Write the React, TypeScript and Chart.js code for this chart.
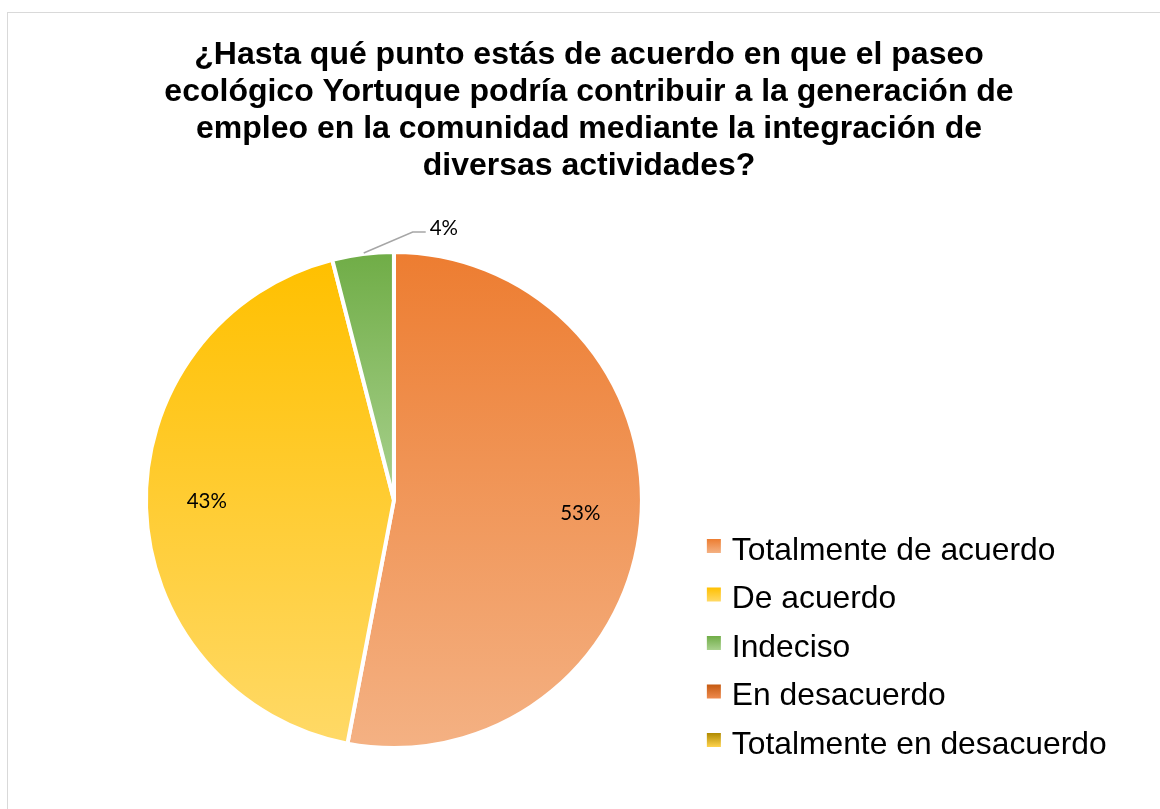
import React, { useEffect, useRef } from "react";
import { Chart, registerables } from "chart.js";

Chart.register(...registerables);

const TITLE_LINES = [
  "¿Hasta qué punto estás de acuerdo en que el paseo",
  "ecológico Yortuque podría contribuir a la generación de",
  "empleo en la comunidad mediante la integración de",
  "diversas actividades?",
];
const CATEGORIES = [
  "Totalmente de acuerdo",
  "De acuerdo",
  "Indeciso",
  "En desacuerdo",
  "Totalmente en desacuerdo",
];
const VALUES = [53, 43, 4, 0, 0];

// styles
const TOP_COLORS = ["#ED7D31", "#FFC000", "#70AD47", "#C55A11", "#B08A00"];
const BOTTOM_COLORS = ["#F4B183", "#FFD966", "#A9D18E", "#EE8A4E", "#FFD34D"];

const PIE_RADIUS = 248;
const LEGEND_FONT = 31.8;
const LEGEND_BOX = 14;
const TITLE_FONT = "bold 32px 'Liberation Sans', Arial, sans-serif";
const LABEL_FONT = "20.5px Lato, 'Open Sans', sans-serif";

function sliceGradient(chart: any, i: number) {
  const area = chart.chartArea;
  if (!area) return TOP_COLORS[i];
  const cy = (area.top + area.bottom) / 2;
  const r = PIE_RADIUS - 2;
  const total = VALUES.reduce((a, b) => a + b, 0);
  let before = 0;
  for (let k = 0; k < i; k++) before += VALUES[k];
  const a0 = (before / total) * Math.PI * 2;
  const a1 = ((before + VALUES[i]) / total) * Math.PI * 2;
  const ys = [cy, cy - r * Math.cos(a0), cy - r * Math.cos(a1)];
  if (a0 <= 1e-9 || a1 >= Math.PI * 2 - 1e-9) ys.push(cy - r);
  if (a0 <= Math.PI && a1 >= Math.PI) ys.push(cy + r);
  const y0 = Math.min(...ys);
  let y1 = Math.max(...ys);
  if (y1 - y0 < 1) y1 = y0 + 1;
  const g = chart.ctx.createLinearGradient(0, y0, 0, y1);
  g.addColorStop(0, TOP_COLORS[i]);
  g.addColorStop(1, BOTTOM_COLORS[i]);
  return g;
}

const titlePlugin = {
  id: "titleText",
  afterDraw(chart: any) {
    const ctx = chart.ctx;
    ctx.save();
    ctx.font = TITLE_FONT;
    ctx.fillStyle = "#000";
    ctx.textAlign = "center";
    ctx.textBaseline = "middle";
    TITLE_LINES.forEach((line, i) => ctx.fillText(line, 589, 55.5 + 37 * i));
    ctx.restore();
  },
};

const legendBoxPlugin = {
  id: "legendBoxGradient",
  afterDraw(chart: any) {
    const legend = chart.legend;
    if (!legend || !legend.legendHitBoxes) return;
    const ctx = chart.ctx;
    ctx.save();
    legend.legendHitBoxes.forEach((hb: any, i: number) => {
      const top = hb.top + 9;
      const g = ctx.createLinearGradient(0, top, 0, top + LEGEND_BOX);
      g.addColorStop(0, TOP_COLORS[i]);
      g.addColorStop(1, BOTTOM_COLORS[i]);
      ctx.fillStyle = g;
      ctx.fillRect(hb.left, top, LEGEND_BOX, LEGEND_BOX);
    });
    ctx.restore();
  },
};

const dataLabelPlugin = {
  id: "dataLabels",
  afterDatasetsDraw(chart: any) {
    const ctx = chart.ctx;
    const meta = chart.getDatasetMeta(0);
    ctx.save();
    ctx.font = LABEL_FONT;
    ctx.fillStyle = "#000";
    meta.data.forEach((arc: any, i: number) => {
      const v = VALUES[i];
      if (!v) return;
      const { x, y, startAngle, endAngle, outerRadius } = arc.getProps(
        ["x", "y", "startAngle", "endAngle", "outerRadius"],
        true
      );
      const mid = (startAngle + endAngle) / 2;
      const text = v + "%";
      if (v >= 10) {
        const d = outerRadius * 0.755;
        ctx.textAlign = "center";
        ctx.textBaseline = "middle";
        ctx.fillText(text, x + Math.cos(mid) * d, y + Math.sin(mid) * d - 4);
      } else {
        const sx = x + Math.cos(mid) * (outerRadius + 1);
        const sy = y + Math.sin(mid) * (outerRadius + 1);
        const ex = sx + 50;
        const ey = sy - 21;
        ctx.strokeStyle = "#A6A6A6";
        ctx.lineWidth = 1.5;
        ctx.beginPath();
        ctx.moveTo(sx + 1, sy);
        ctx.lineTo(ex, ey);
        ctx.lineTo(ex + 13, ey);
        ctx.stroke();
        ctx.textAlign = "left";
        ctx.textBaseline = "middle";
        ctx.fillText(text, ex + 17, ey - 4);
      }
    });
    ctx.restore();
  },
};

export default function App() {
  const ref = useRef<HTMLCanvasElement>(null);
  useEffect(() => {
    const chart = new Chart(ref.current as HTMLCanvasElement, {
      type: "pie",
      data: {
        labels: CATEGORIES,
        datasets: [
          {
            data: VALUES,
            backgroundColor: (c: any) => sliceGradient(c.chart, c.dataIndex),
            borderColor: "#FFFFFF",
            borderWidth: 4,
            radius: PIE_RADIUS,
          } as any,
        ],
      },
      options: {
        responsive: false,
        animation: false,
        devicePixelRatio: 1,
        events: [],
        layout: { padding: { top: 227.5, bottom: 36.5, left: 88, right: 43.4 } },
        plugins: {
          title: { display: false },
          tooltip: { enabled: false },
          legend: {
            position: "right",
            align: "end",
            fullSize: false,
            labels: {
              boxWidth: 9.1,
              boxHeight: 41.5,
              padding: 7,
              color: "#000",
              font: { family: "'Liberation Sans', Arial, sans-serif", size: LEGEND_FONT },
              generateLabels: (ch: any) =>
                CATEGORIES.map((text, i) => ({
                  text,
                  fillStyle: "rgba(0,0,0,0)",
                  strokeStyle: "rgba(0,0,0,0)",
                  lineWidth: 0,
                  fontColor: "#000",
                  hidden: !ch.getDataVisibility(i),
                  index: i,
                })),
            },
          },
        },
      },
      plugins: [dataLabelPlugin, titlePlugin, legendBoxPlugin],
    } as any);
    return () => chart.destroy();
  }, []);

  return (
    <div
      style={{
        position: "fixed",
        left: 0,
        top: 0,
        width: 1160,
        height: 809,
        overflow: "hidden",
        background: "#fff",
      }}
    >
      <div
        style={{
          position: "absolute",
          left: 7,
          top: 12,
          width: 1200,
          height: 900,
          border: "1px solid #D9D9D9",
          boxSizing: "border-box",
        }}
      />
      <canvas
        ref={ref}
        width={1160}
        height={809}
        style={{ position: "absolute", left: 0, top: 0, width: 1160, height: 809 }}
      />
    </div>
  );
}
